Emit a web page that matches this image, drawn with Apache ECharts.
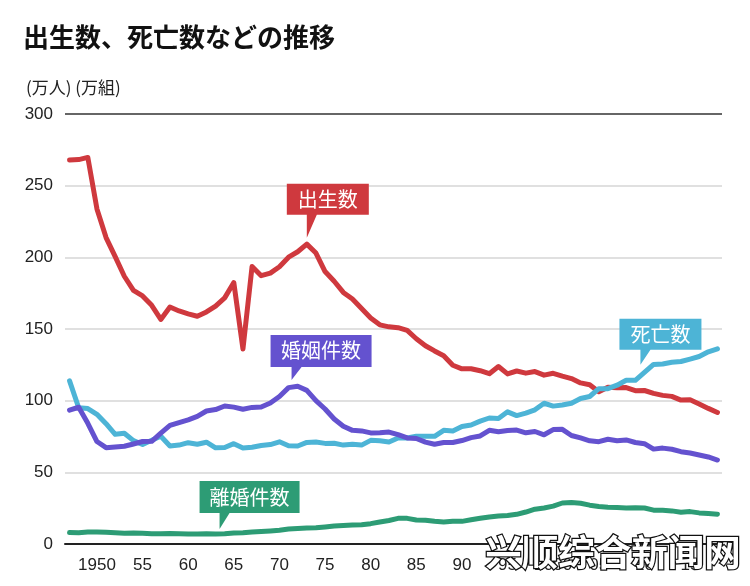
<!DOCTYPE html>
<html><head><meta charset="utf-8">
<script src="https://cdn.jsdelivr.net/npm/echarts@6/dist/echarts.min.js"></script>
<style>html,body{margin:0;padding:0;background:#fff}#c{width:750px;height:586px}</style>
</head><body><div id="c"></div>
<script>
const years = ['1947','1948','1949','1950','1951','1952','1953','1954','1955','1956','1957','1958','1959',
'1960','1961','1962','1963','1964','1965','1966','1967','1968','1969','1970','1971','1972','1973','1974',
'1975','1976','1977','1978','1979','1980','1981','1982','1983','1984','1985','1986','1987','1988','1989',
'1990','1991','1992','1993','1994','1995','1996','1997','1998','1999','2000','2001','2002','2003','2004',
'2005','2006','2007','2008','2009','2010','2011','2012','2013','2014','2015','2016','2017','2018'];

const births = [267.9,268.2,269.7, 233.8,213.8,200.5,186.8,177.0, 173.1,166.5,156.7,165.3,162.6,
160.6,158.9,161.9,166.0,171.7, 182.4,136.1,193.6,187.2,189.0, 193.4,200.1,203.9,209.2,203.0,
190.1,183.3,175.5,170.9,164.3, 157.7,152.9,151.5,150.9,149.0, 143.2,138.3,134.7,131.4,124.7,
122.2,122.3,120.9,118.8,123.8, 118.7,120.7,119.2,120.3,117.8, 119.1,117.1,115.4,112.4,111.1,
106.3,109.3,109.0,109.1,107.0, 107.1,105.1,103.7,103.0,100.4, 100.6,97.7,94.6,91.8];

const deaths = [113.8,95.1,94.5, 90.5,83.9,76.5,77.3,72.1, 69.4,72.4,75.2,68.4,69.0,
70.7,69.6,71.0,67.1,67.3, 70.0,67.0,67.5,68.7,69.4, 71.3,68.5,68.4,70.9,71.1,
70.2,70.3,69.0,69.6,69.0, 72.3,72.0,71.2,74.0,74.0, 75.2,75.1,75.1,79.3,78.9,
82.0,83.0,85.7,87.9,87.6, 92.2,89.6,91.3,93.6,98.2, 96.2,97.0,98.2,101.5,102.9,
108.4,108.4,110.8,114.2,114.2, 119.7,125.3,125.6,126.8,127.3, 129.0,130.8,134.1,136.2];

const marriages = [93.4,95.4,84.2, 71.5,67.2,67.7,68.2,69.8, 71.5,71.6,77.3,82.7,84.7,
86.6,89.0,92.8,93.8,96.3, 95.5,94.0,95.3,95.6,98.4, 102.9,109.1,110.0,107.2,100.0,
94.2,87.2,82.1,79.3,78.9, 77.5,77.7,78.1,76.3,74.0, 73.6,71.1,69.6,70.8,70.8,
72.2,74.2,75.4,79.3,78.3, 79.2,79.5,77.6,78.5,76.2, 79.8,80.0,75.7,74.0,72.0,
71.4,73.1,72.0,72.6,70.8, 70.0,66.2,66.9,66.1,64.4, 63.5,62.1,60.7,58.6];

const divorces = [8.0,7.9,8.3, 8.4,8.2,7.9,7.5,7.7, 7.5,7.2,7.2,7.4,7.2,
6.9,6.9,7.1,7.0,7.2, 7.7,7.9,8.3,8.7,9.1, 9.6,10.4,10.8,11.2,11.4,
11.9,12.5,12.9,13.2,13.5, 14.2,15.4,16.4,17.9,17.9, 16.7,16.6,15.8,15.4,15.8,
15.8,16.9,17.9,18.8,19.5, 19.9,20.7,22.3,24.3,25.1, 26.4,28.6,29.0,28.4,27.1,
26.2,25.7,25.5,25.1,25.3, 25.1,23.6,23.5,23.1,22.2, 22.6,21.7,21.2,20.8];

const seriesNames = ['出生数','死亡数','婚姻件数','離婚件数'];
const yTicks = [0,50,100,150,200,250,300];

const colors = ['#cf393e','#4db4d6','#6452cf','#2d9c75'];
// callout: anchor year + value at pointer tip, extra px shift, box size
const callouts = [
  {year:'1973', value:213.7, dx:0,  W:82,  H:31, P:23},
  {year:'2010', value:125,   dx:-4, W:82,  H:31, P:15},
  {year:'1971', value:114.5, dx:3,  W:101, H:32, P:13},
  {year:'1963', value:10.5,  dx:4,  W:100, H:32, P:16}
];
const boxLeftToTip = [20, 21, 21, 20];

function calloutMark(i){
  const c = callouts[i];
  const px = boxLeftToTip[i], pw = 10;
  const path = 'path://M0 0 L'+c.W+' 0 L'+c.W+' '+c.H+' L'+(px+pw)+' '+c.H+' L'+px+' '+(c.H+c.P)+' L'+px+' '+c.H+' L0 '+c.H+' Z';
  return {
    silent:true, animation:false,
    symbol: path, symbolSize:[c.W, c.H+c.P], symbolKeepAspect:false,
    symbolOffset:[c.dx + c.W/2 - px, -(c.H+c.P)/2],
    itemStyle:{color:colors[i]},
    label:{show:true, position:'inside', offset:[0,-c.P/2], formatter:seriesNames[i],
      color:'#fff', fontSize:20, fontFamily:'Noto Sans CJK JP'},
    data:[{coord:[c.year, c.value]}]
  };
}

const dataSets = [births, deaths, marriages, divorces];
const chart = echarts.init(document.getElementById('c'), null, {renderer:'canvas'});
chart.setOption({
  animation:false,
  backgroundColor:'#fff',
  title:[
    {text:'出生数、死亡数などの推移', left:18, top:19,
     textStyle:{fontSize:26, fontWeight:'bold', color:'#111', fontFamily:'Noto Sans CJK JP'}},
    {text:'(万人) (万組)', left:21, top:74,
     textStyle:{fontSize:17, fontWeight:'normal', color:'#222', fontFamily:'Noto Sans CJK JP'}}
  ],
  grid:{left:65, right:28, top:114, bottom:42},
  xAxis:{
    type:'category', data:years, boundaryGap:true,
    axisLine:{lineStyle:{color:'#222', width:2}},
    axisTick:{show:false},
    axisLabel:{
      interval:function(idx, val){ return Number(val)%5===0; },
      formatter:function(v){ return (v==='1950'||v==='2000') ? v : v.slice(2); },
      fontSize:17, color:'#222', margin:13, fontFamily:'Liberation Sans'
    },
    splitLine:{show:false}
  },
  yAxis:{
    type:'value', min:yTicks[0], max:yTicks[yTicks.length-1], interval:50,
    axisLine:{show:false}, axisTick:{show:false},
    axisLabel:{fontSize:17, color:'#222', margin:12, fontFamily:'Liberation Sans'},
    splitLine:{lineStyle:{color:['#222','#d6d6d6','#d6d6d6','#d6d6d6','#d6d6d6','#d6d6d6','#333'], width:1.5}}
  },
  series: dataSets.map(function(d,i){
    return {
      name:seriesNames[i], type:'line', data:d, showSymbol:false, symbol:'none',
      lineStyle:{color:colors[i], width:5, cap:'round', join:'round'},
      itemStyle:{color:colors[i]},
      z: 2+i,
      markPoint: calloutMark(i)
    };
  }),
  graphic:[{
    type:'text', left:484, top:533, z:100,
    style:{text:'兴顺综合新闻网', fontSize:36.5, fontWeight:'bold', fontFamily:'Noto Sans CJK SC',
      fill:'#fff', stroke:'#111', lineWidth:2.5}
  }]
});
</script></body></html>
